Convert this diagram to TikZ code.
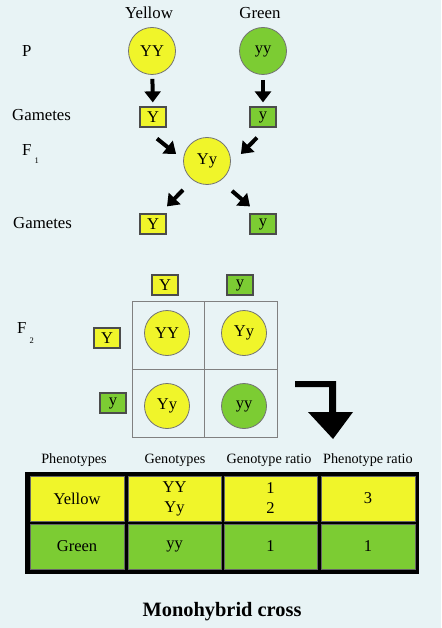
\documentclass[tikz,border=0pt]{standalone}
\usepackage{fontspec}
\setmainfont{Liberation Serif}
\usetikzlibrary{arrows.meta,calc}
\definecolor{bg}{RGB}{232,243,245}
\definecolor{yel}{RGB}{240,245,42}
\definecolor{grn}{RGB}{124,204,51}
\begin{document}
\begin{tikzpicture}[x=1pt,y=-1pt,
  lbl/.style={font=\fontsize{16.8}{18}\selectfont, inner sep=0},
  hdr/.style={font=\fontsize{14.2}{16}\selectfont, inner sep=0},
  circY/.style={circle, fill=yel, draw=black!55, line width=0.8, minimum size=47, inner sep=0, font=\fontsize{16.5}{18}\selectfont},
  circG/.style={circY, fill=grn},
  boxY/.style={rectangle, fill=yel, draw=black!70, line width=1.2, minimum width=26, minimum height=20, inner sep=0, font=\fontsize{16.5}{18}\selectfont},
  boxG/.style={boxY, fill=grn},
  bigarrow/.style={line width=4, -{Triangle[width=16pt,length=11pt]}},
  gridline/.style={draw=black!50, line width=0.9},
  cellY/.style={rectangle, fill=yel, draw=black!60, line width=0.6, inner sep=0, align=center, font=\fontsize{16.5}{20}\selectfont, minimum height=45},
  cellG/.style={cellY, fill=grn}
]
\fill[bg] (0,0) rectangle (441,628);
\useasboundingbox (0,0) rectangle (441,628);

% labels
\node[lbl] (lYellow) at (149,13) {Yellow};
\node[lbl] (lGreen) at (260,13) {Green};
\node[lbl, anchor=base west] (lP) at (22,57) {P};
\node[lbl, anchor=base west] (lG1) at (12,121) {Gametes};
\node[lbl, anchor=base west] (lF1) at (22,156) {F\hspace{3pt}\raisebox{-8pt}{\fontsize{8.5}{8}\selectfont 1}};
\node[lbl, anchor=base west] (lG2) at (13,228) {Gametes};
\node[lbl, anchor=base west] (lF2) at (17,333) {F\hspace{3pt}\raisebox{-10pt}{\fontsize{8.5}{8}\selectfont 2}};

% P generation
\node[circY] (pYY) at (152,51) {YY};
\node[circG] (pyy) at (263,51) {yy};
\node[boxY] (gY) at (153,117) {Y};
\node[boxG] (gy) at (263,117) {y};
\draw[bigarrow, shorten <=4pt, shorten >=4pt] (pYY) -- (gY);
\draw[bigarrow, shorten <=5pt, shorten >=4pt] (pyy) -- (gy);

% F1
\node[circY] (fYy) at (207,161) {Yy};
\node[boxY] (g2Y) at (153,224) {Y};
\node[boxG] (g2y) at (263,224) {y};
\draw[bigarrow] ($(gY.south)+(4,11)$) -- ($(fYy.west)+(-7,-7)$);
\draw[bigarrow] ($(gy.south)+(-6,10)$) -- ($(fYy.east)+(10,-7)$);
\draw[bigarrow] ($(fYy.south)+(-24,5)$) -- ($(g2Y.north)+(14,-7)$);
\draw[bigarrow] ($(fYy.south)+(25,6)$) -- ($(g2y.north)+(-13,-7)$);

% F2 Punnett square
\node[boxY] (tY) at (165,285) {Y};
\node[boxG] (ty) at (240,285) {y};
\node[boxY] (sY) at (107,338) {Y};
\node[boxG] (sy) at (113,403) {y};
\draw[gridline] (132,301) rectangle (277,437);
\draw[gridline] (204,301) -- (204,437);
\draw[gridline] (132,369) -- (277,369);
\node[circY, minimum size=45] (q11) at (167,333) {YY};
\node[circY, minimum size=45] (q12) at (244,333) {Yy};
\node[circY, minimum size=45] (q21) at (167,406) {Yy};
\node[circG, minimum size=45] (q22) at (244,406) {yy};

% bent arrow
\fill[black] (295,381) -- (336,381) -- (336,412) -- (353,412) -- (333,439) -- (308,412) -- (329,412) -- (329,387) -- (295,387) -- cycle;

% table
\node[hdr] (h1) at (74,460) {Phenotypes};
\node[hdr] (h2) at (175,460) {Genotypes};
\node[hdr] (h3) at (269,460) {Genotype ratio};
\node[hdr] (h4) at (368,460) {Phenotype ratio};
\fill[black] (25,472) rectangle (419,574);
\node[cellY, minimum width=94] (c11) at (77,498.5) {Yellow};
\node[cellY, minimum width=93] (c12) at (174.5,498.5) {YY\\Yy};
\node[cellY, minimum width=93] (c13) at (270.5,498.5) {1\\2};
\node[cellY, minimum width=94] (c14) at (368,498.5) {3};
\node[cellG, minimum width=94] (c21) at (77,546.5) {Green};
\node[cellG, minimum width=93] (c22) at (174.5,546.5) {\raisebox{4pt}{yy}};
\node[cellG, minimum width=93] (c23) at (270.5,546.5) {1};
\node[cellG, minimum width=94] (c24) at (368,546.5) {1};

\node[font=\bfseries\fontsize{20.4}{24}\selectfont, inner sep=0] (title) at (222,612) {Monohybrid cross};
\end{tikzpicture}
\end{document}
